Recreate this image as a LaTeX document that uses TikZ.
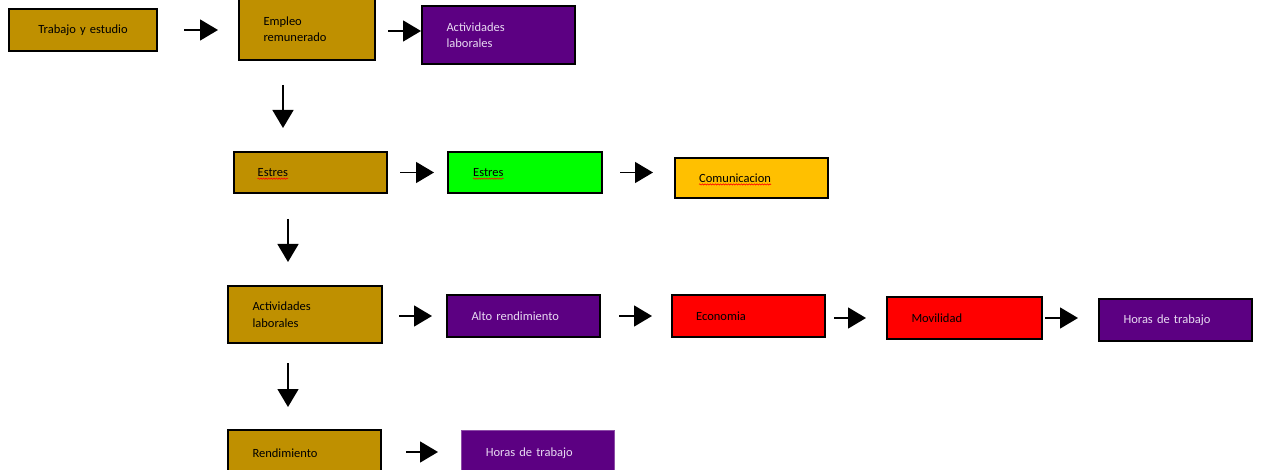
\documentclass[tikz,border=0pt]{standalone}
\usepackage{fontspec}
\setmainfont{Carlito}
\usetikzlibrary{arrows.meta,decorations.pathmorphing}
\definecolor{goldC}{HTML}{BF9000}
\definecolor{purpC}{HTML}{5C0082}
\definecolor{greenC}{HTML}{00FF00}
\definecolor{orangeC}{HTML}{FFC000}
\definecolor{redC}{HTML}{FF0000}
\definecolor{lavC}{HTML}{E8DAF2}
\tikzset{
  box/.style={draw=black, line width=2pt, anchor=north west, align=left,
    inner xsep=24.5pt, inner ysep=0pt, font=\fontsize{12.5}{16.5}\selectfont},
  boxc/.style={draw=black, line width=2pt, anchor=north west, align=center,
    inner xsep=0pt, inner ysep=0pt, font=\fontsize{12.5}{16.5}\selectfont},
  txt/.style={anchor=west, inner sep=0pt, font=\fontsize{12.5}{16.5}\selectfont},
  squigline/.style={redC, line width=0.6pt, decorate,
    decoration={snake, amplitude=0.6pt, segment length=2.6pt}},
  arr/.style={line width=1.5pt, -{Triangle[length=18pt,width=21pt]}},
}
\begin{document}
\begin{tikzpicture}[x=1pt,y=-1pt]
\useasboundingbox (0,0) rectangle (1261,470);
% row 1
\node[boxc, fill=goldC, minimum width=148pt, minimum height=42pt, text width=148pt] (b1) at (8,8) {Trabajo y estudio};
\node[box, fill=goldC, minimum width=136pt, minimum height=62pt, text width=87pt] (b2) at (238,-3) {Empleo\\remunerado};
\node[box, fill=purpC, text=lavC, minimum width=153pt, minimum height=58pt, text width=104pt] (b3) at (421,5) {Actividades\\laborales};
% row 2
\node[box, fill=goldC, minimum width=153pt, minimum height=41pt, text width=104pt] (e1) at (233,151) {};
\node[txt] (e1t) at ([xshift=24.5pt]e1.west) {Estres};
\node[box, fill=greenC, minimum width=154pt, minimum height=41pt, text width=105pt] (e2) at (447,151) {};
\node[txt] (e2t) at ([xshift=26pt]e2.west) {Estres};
\node[box, fill=orangeC, minimum width=153pt, minimum height=40pt, text width=104pt] (c1) at (674,157) {};
\node[txt] (c1t) at ([xshift=25pt]c1.west) {Comunicacion};
% row 3
\node[box, fill=goldC, minimum width=154pt, minimum height=57pt, text width=105pt] (a1) at (227,285) {Actividades\\laborales\\[3pt]};
\node[box, fill=purpC, text=lavC, minimum width=153pt, minimum height=42pt, text width=104pt] (a2) at (446,294) {Alto rendimiento};
\node[box, fill=redC, minimum width=153pt, minimum height=42pt, text width=104pt] (a3) at (671,294) {};
\node[txt] (a3t) at ([xshift=25pt]a3.west) {Economia};
\node[box, fill=redC, minimum width=155pt, minimum height=42pt, text width=106pt] (a4) at (886,296) {Movilidad};
\node[box, fill=purpC, text=lavC, minimum width=153pt, minimum height=42pt, text width=104pt] (a5) at (1098,298) {Horas de trabajo};
% row 4
\node[box, fill=goldC, minimum width=153pt, minimum height=46pt, text width=104pt] (r1) at (227,429) {Rendimiento};
\node[box, draw=purpC!70!white, line width=0.6pt, fill=purpC, text=lavC, minimum width=153pt, minimum height=46pt, text width=104pt] (r2) at (461,430) {Horas de trabajo};
% spell-check underlines
\foreach \t in {e1t,e2t,c1t,a3t}
  \draw[squigline] ([yshift=-2.2pt]\t.base west) -- ([yshift=-2.2pt]\t.base east);
% connectors
\draw[arr, shorten <=26pt, shorten >=20pt] (b1.east) -- (b1.east -| b2.west);
\draw[arr, shorten <=12pt] ([yshift=-2pt]b2.east) -- ([yshift=-2pt]b2.east -| b3.west);
\draw[arr, shorten <=24pt, shorten >=23pt] ([xshift=-24pt]b2.south) -- ([xshift=-24pt]b2.south |- e1.north);
\draw[arr, shorten <=12pt, shorten >=13pt] (e1.east) -- (e1.east -| e2.west);
\draw[arr, shorten <=17pt, shorten >=21pt] (e2.east) -- (e2.east -| c1.west);
\draw[arr, shorten <=25pt, shorten >=23pt] ([xshift=-22.5pt]e1.south) -- ([xshift=-22.5pt]e1.south |- a1.north);
\draw[arr, shorten <=16pt, shorten >=14pt] (a2.west -| a1.east) -- (a2.west);
\draw[arr, shorten <=18pt, shorten >=19pt] (a2.east) -- (a2.east -| a3.west);
\draw[arr, shorten <=8pt, shorten >=20pt] (a4.west -| a3.east) -- (a4.west);
\draw[arr, shorten <=2pt, shorten >=20pt] (a4.east) -- (a4.east -| a5.west);
\draw[arr, shorten <=19pt, shorten >=22pt] ([xshift=-17pt]a1.south) -- ([xshift=-17pt]a1.south |- r1.north);
\draw[arr, shorten <=24pt, shorten >=23pt] ([yshift=1pt]r1.east) -- ([yshift=1pt]r1.east -| r2.west);
\end{tikzpicture}
\end{document}
